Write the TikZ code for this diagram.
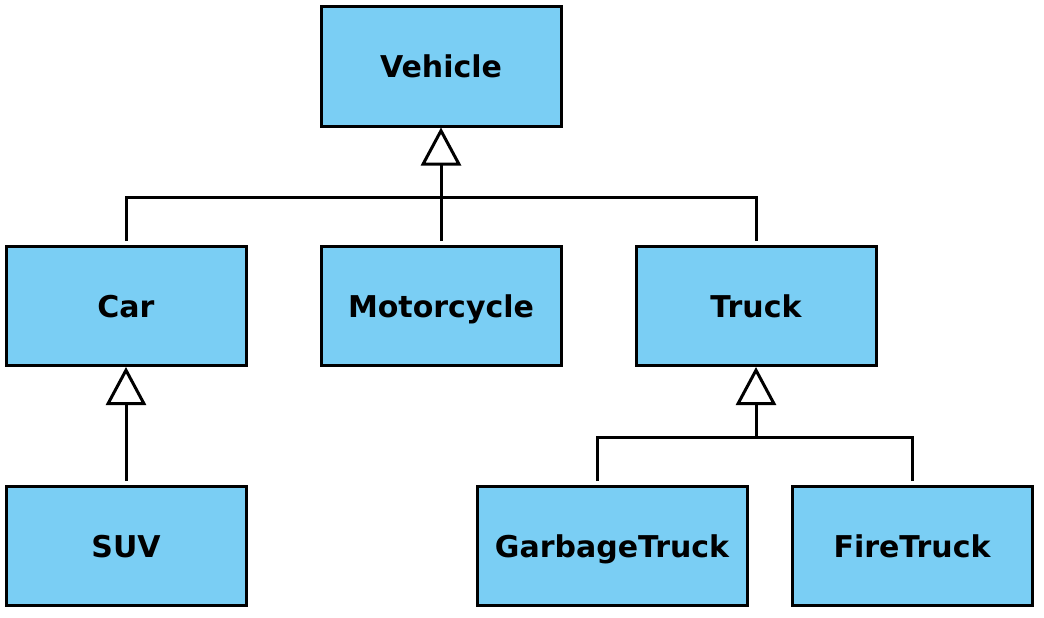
\documentclass[tikz,border=0pt]{standalone}
\usepackage{fontspec}
\usetikzlibrary{arrows.meta}
\newfontfamily\boxfont{DejaVu Sans}

\begin{document}
\begin{tikzpicture}[x=1pt,y=-1pt,
    classbox/.style={rectangle,draw=black,line width=3pt,fill=boxblue,
      minimum width=240pt,minimum height=119pt,inner sep=0pt,
      text height=22pt,text depth=0pt,
      font=\boxfont\bfseries\fontsize{30}{36}\selectfont},
    link/.style={draw=black,line width=3pt},
    inherit/.style={link,-{Triangle[fill=white,width=40pt,length=38pt,line width=3pt]}}]

    \definecolor{boxblue}{HTML}{7ACEF4}
    \newcommand*{\gapsize}{4pt}%

    \useasboundingbox (0,0) rectangle (1044,618);

    % classes
    \node [classbox] (vehicle) at (441,66.5) {Vehicle};
    \node [classbox] (car)     at (126,306)  {Car};
    \node [classbox] (moto)    at (441,306)  {Motorcycle};
    \node [classbox] (truck)   at (756,306)  {Truck};
    \node [classbox] (suv)     at (126,546)  {SUV};
    \node [classbox,minimum width=270pt] (garbage) at (612,546) {GarbageTruck};
    \node [classbox] (fire)    at (912,546)  {FireTruck};

    % junctions
    \coordinate (vj) at (441,197);
    \coordinate (tj) at (756,437);

    % Vehicle
    \draw [link,shorten <=\gapsize] (car.north) |- (vj);
    \draw [link,shorten <=\gapsize] (truck.north) |- (vj);
    \draw [inherit,shorten <=\gapsize] (moto.north) -- (vehicle.south);

    % Car
    \draw [inherit,shorten <=\gapsize] (suv.north) -- (car.south);

    % Truck
    \draw [link,shorten <=\gapsize] (garbage.north -| 597,0) |- (tj);
    \draw [link,shorten <=\gapsize] (fire.north) |- (tj);
    \draw [inherit] (tj) -- (truck.south);

\end{tikzpicture}
\end{document}
